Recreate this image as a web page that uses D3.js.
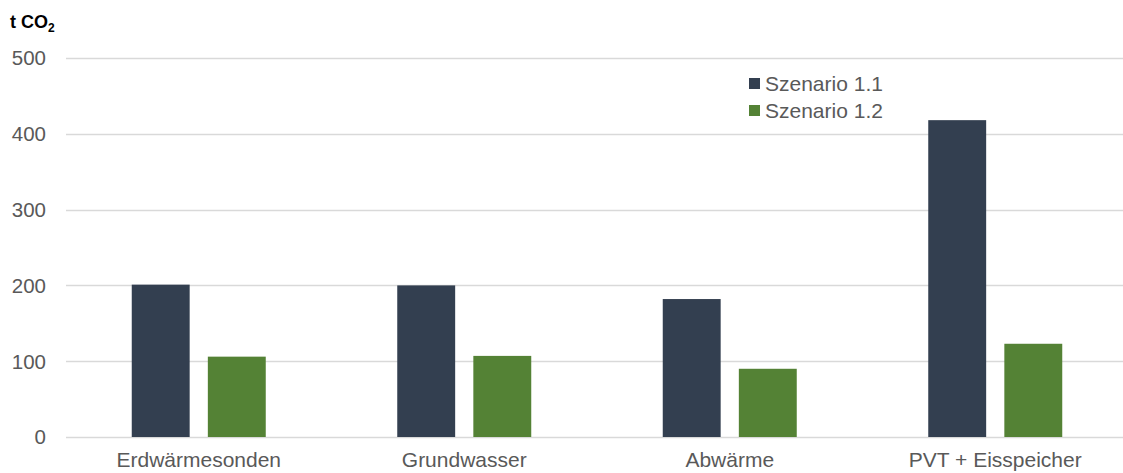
<!DOCTYPE html>
<html><head><meta charset="utf-8">
<script src="https://cdn.jsdelivr.net/npm/d3@7"></script>
<style>body{margin:0;background:#fff}svg{display:block}text{font-family:Arial,"Liberation Sans",sans-serif}</style>
</head><body><svg id="c" width="1123" height="473"></svg>
<script>
const categories = ["Erdwärmesonden","Grundwasser","Abwärme","PVT + Eisspeicher"];
const seriesNames = ["Szenario 1.1","Szenario 1.2"];
const scenario11 = [201, 200, 182, 418];
const scenario12 = [106, 107, 90, 123];
const yTicks = [0,100,200,300,400,500];
const colors = ["#333F50","#548235"];

const svg = d3.select("#c");
const W = 1123, H = 473;
const x0 = d3.scaleBand().domain(categories).range([66, 1128]).paddingInner(0).paddingOuter(0);
const y = d3.scaleLinear().domain([0,500]).range([437, 58]);
const x1 = d3.scaleBand().domain(seriesNames).range([65.75, 65.75+134]).paddingInner(16/134*2).paddingOuter(0);

// gridlines
svg.append("g").selectAll("line").data(yTicks).join("line")
  .attr("x1",66).attr("x2",W).attr("y1",d=>Math.round(y(d))+0.5).attr("y2",d=>Math.round(y(d))+0.5)
  .attr("stroke","#D9D9D9").attr("stroke-width",1.3);

// y tick labels
svg.append("g").selectAll("text").data(yTicks).join("text")
  .attr("x",46).attr("y",d=>y(d)).attr("dy","0.36em").attr("text-anchor","end")
  .attr("font-size",20.5).attr("fill","#595959").text(d=>d);

// title
const t = svg.append("text").attr("x",10).attr("y",28).attr("font-size",18).attr("font-weight","bold").attr("fill","#000");
t.append("tspan").text("t CO");
t.append("tspan").attr("font-size",12).attr("dy",4).text("2");

// bars
const data = categories.map((c,i)=>({c, vals:[scenario11[i], scenario12[i]]}));
const g = svg.append("g").selectAll("g").data(data).join("g")
  .attr("transform",d=>`translate(${x0(d.c)},0)`);
g.selectAll("rect").data(d=>d.vals.map((v,j)=>({s:seriesNames[j],v,j}))).join("rect")
  .attr("x",d=>x1(d.s)).attr("width",x1.bandwidth())
  .attr("y",d=>y(d.v)).attr("height",d=>y(0)-y(d.v))
  .attr("fill",d=>colors[d.j]);

// category labels
svg.append("g").selectAll("text").data(categories).join("text")
  .attr("x",d=>x0(d)+x0.bandwidth()/2).attr("y",467).attr("text-anchor","middle")
  .attr("font-size",21).attr("fill","#595959").text(d=>d);

// legend
const lg = svg.append("g").selectAll("g").data(seriesNames).join("g")
  .attr("transform",(d,i)=>`translate(749,${83+i*27})`);
lg.append("rect").attr("x",0).attr("y",-5).attr("width",11).attr("height",11).attr("fill",(d,i)=>colors[i]);
lg.append("text").attr("x",16).attr("y",0).attr("dy","0.36em").attr("font-size",21).attr("fill","#595959").text(d=>d);
</script></body></html>
